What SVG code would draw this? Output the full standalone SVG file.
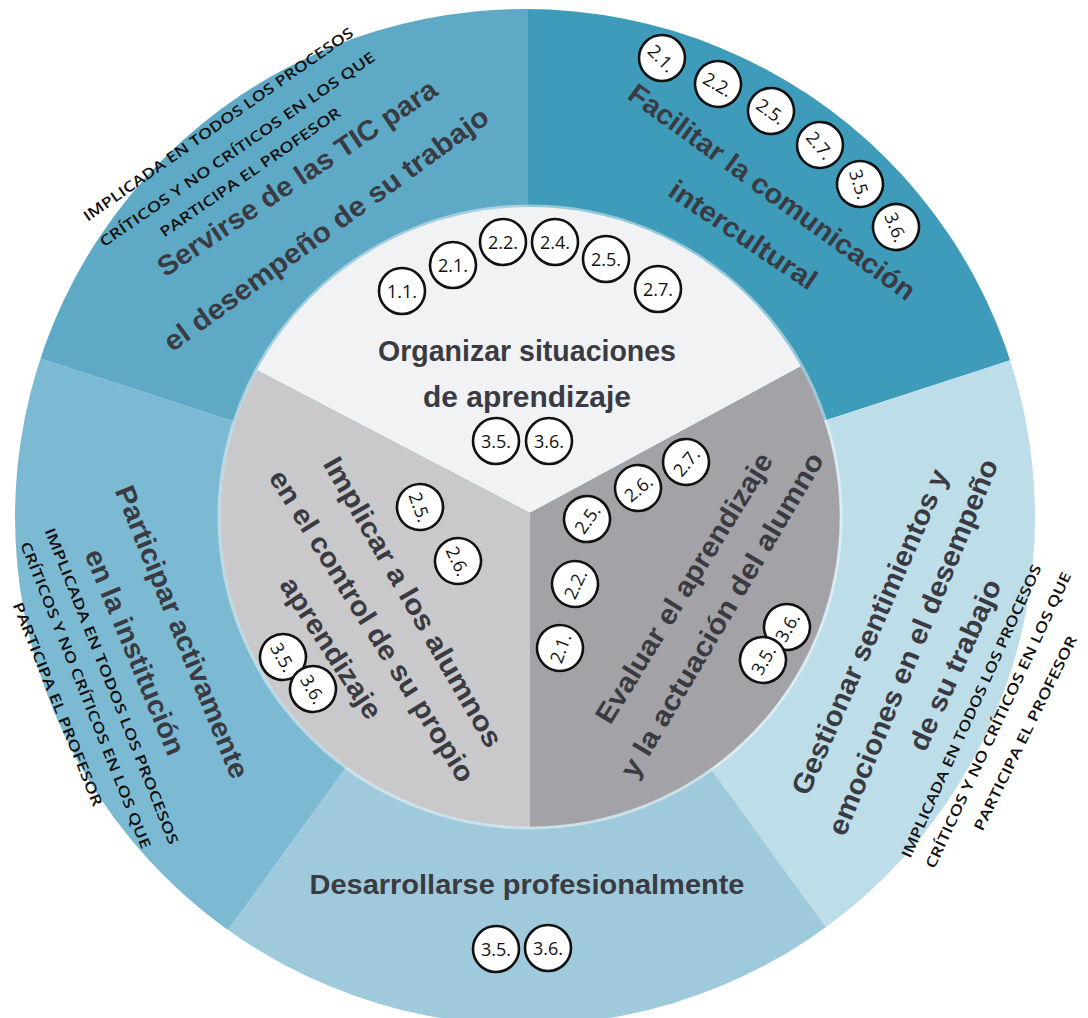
<svg xmlns="http://www.w3.org/2000/svg" width="1088" height="1018" viewBox="0 0 1088 1018">
<style>
.lbl{font-family:"Liberation Sans",Arial,sans-serif;font-weight:bold;font-size:28px;fill:#3a3b42;text-anchor:middle;dominant-baseline:central}
.sm{font-family:"Open Sans","DejaVu Sans",sans-serif;font-weight:600;font-size:14.5px;fill:#111;text-anchor:middle;dominant-baseline:central}
.bc{fill:#fff;stroke:#111;stroke-width:2.6}
.bt{font-family:"Open Sans","DejaVu Sans",sans-serif;font-size:18px;fill:#111;text-anchor:middle;dominant-baseline:central}
</style>
<defs>
<clipPath id="outerClip"><ellipse cx="525" cy="517" rx="510" ry="508"/></clipPath>
<clipPath id="innerClip"><circle cx="530" cy="517" r="310"/></clipPath>
<circle id="b" r="23" class="bc"/>
</defs>
<rect width="1088" height="1018" fill="#fff"/>
<g clip-path="url(#outerClip)">
<g id="servirse"><polygon points="528,517 -232.9,269.8 528,-283" fill="#5eaac6"/></g>
<g id="facilitar"><polygon points="528,517 528,-283 1288.9,269.8" fill="#3e9cba"/></g>
<g id="gestionar"><polygon points="528,517 1288.9,269.8 998.2,1164.2" fill="#bddde9"/></g>
<g id="desarrollarse"><polygon points="528,517 998.2,1164.2 57.8,1164.2" fill="#9fcadc"/></g>
<g id="participar"><polygon points="528,517 57.8,1164.2 -232.9,269.8" fill="#7cbad3"/></g>
</g>
<g clip-path="url(#innerClip)">
<g id="organizar-bg"><polygon points="530,513 -356,50 -356,-300 1410,-300 1410,37" fill="#f1f2f4"/></g>
<g id="implicar-bg"><polygon points="530,513 530,1100 -400,1100 -356,50" fill="#c9c9cb"/></g>
<g id="evaluar-bg"><polygon points="530,513 530,1100 1420,1100 1410,37" fill="#a3a3a7"/></g>
</g>
<circle cx="530" cy="517" r="311" fill="none" stroke="#ffffff" stroke-opacity="0.45" stroke-width="3"/>
<g id="connectors"/>

<g id="node-servirse">
<text class="lbl" transform="translate(297,178) rotate(-33.8)" textLength="330" lengthAdjust="spacingAndGlyphs">Servirse de las TIC para</text>
<text class="lbl" transform="translate(326,229) rotate(-36)" textLength="394" lengthAdjust="spacingAndGlyphs">el desempeño de su trabajo</text>
<text class="sm" transform="translate(218,124) rotate(-35)" textLength="326" lengthAdjust="spacingAndGlyphs">IMPLICADA EN TODOS LOS PROCESOS</text>
<text class="sm" transform="translate(237,149) rotate(-34.6)" textLength="331" lengthAdjust="spacingAndGlyphs">CRÍTICOS Y NO CRÍTICOS EN LOS QUE</text>
<text class="sm" transform="translate(250,172) rotate(-34.6)" textLength="216" lengthAdjust="spacingAndGlyphs">PARTICIPA EL PROFESOR</text>
</g>

<g id="node-facilitar">
<text class="lbl" transform="translate(772,192) rotate(36)" textLength="347" lengthAdjust="spacingAndGlyphs">Facilitar la comunicación</text>
<text class="lbl" transform="translate(743,235) rotate(34)" textLength="172" lengthAdjust="spacingAndGlyphs">intercultural</text>
<g transform="translate(662,58) rotate(45)"><use href="#b"/><text class="bt">2.1.</text></g>
<g transform="translate(718,84) rotate(30)"><use href="#b"/><text class="bt">2.2.</text></g>
<g transform="translate(771,111) rotate(35)"><use href="#b"/><text class="bt">2.5.</text></g>
<g transform="translate(820,145) rotate(50)"><use href="#b"/><text class="bt">2.7.</text></g>
<g transform="translate(860,184) rotate(72)"><use href="#b"/><text class="bt">3.5.</text></g>
<g transform="translate(896,227) rotate(68)"><use href="#b"/><text class="bt">3.6.</text></g>
</g>

<g id="node-gestionar">
<text class="lbl" transform="translate(870,632) rotate(-66.4)" textLength="352" lengthAdjust="spacingAndGlyphs">Gestionar sentimientos y</text>
<text class="lbl" transform="translate(913,647) rotate(-67.6)" textLength="404" lengthAdjust="spacingAndGlyphs">emociones en el desempeño</text>
<text class="lbl" transform="translate(955,665) rotate(-65.5)" textLength="185" lengthAdjust="spacingAndGlyphs">de su trabajo</text>
<text class="sm" transform="translate(971,711) rotate(-65.7)" textLength="320" lengthAdjust="spacingAndGlyphs">IMPLICADA EN TODOS LOS PROCESOS</text>
<text class="sm" transform="translate(998,720) rotate(-65)" textLength="325" lengthAdjust="spacingAndGlyphs">CRÍTICOS Y NO CRÍTICOS EN LOS QUE</text>
<text class="sm" transform="translate(1025,733) rotate(-63.8)" textLength="215" lengthAdjust="spacingAndGlyphs">PARTICIPA EL PROFESOR</text>
</g>

<g id="node-desarrollarse">
<text class="lbl" x="527" y="885" style="font-size:27px" textLength="435" lengthAdjust="spacingAndGlyphs">Desarrollarse profesionalmente</text>
<g transform="translate(496,949)"><use href="#b"/><text class="bt">3.5.</text></g>
<g transform="translate(548,948)"><use href="#b"/><text class="bt">3.6.</text></g>
</g>

<g id="node-participar">
<text class="lbl" transform="translate(182,632) rotate(68)" textLength="313" lengthAdjust="spacingAndGlyphs">Participar activamente</text>
<text class="lbl" transform="translate(135,652) rotate(67.5)" textLength="220" lengthAdjust="spacingAndGlyphs">en la institución</text>
<text class="sm" transform="translate(112,686) rotate(68.4)" textLength="339" lengthAdjust="spacingAndGlyphs">IMPLICADA EN TODOS LOS PROCESOS</text>
<text class="sm" transform="translate(86,695) rotate(68.3)" textLength="329" lengthAdjust="spacingAndGlyphs">CRÍTICOS Y NO CRÍTICOS EN LOS QUE</text>
<text class="sm" transform="translate(58,704) rotate(68.2)" textLength="218" lengthAdjust="spacingAndGlyphs">PARTICIPA EL PROFESOR</text>
</g>

<g id="node-organizar">
<text class="lbl" x="527" y="351" style="font-size:29px" textLength="298" lengthAdjust="spacingAndGlyphs">Organizar situaciones</text>
<text class="lbl" x="527" y="397" style="font-size:29px" textLength="208" lengthAdjust="spacingAndGlyphs">de aprendizaje</text>
<g transform="translate(402,291)"><use href="#b"/><text class="bt">1.1.</text></g>
<g transform="translate(453,265)"><use href="#b"/><text class="bt">2.1.</text></g>
<g transform="translate(503,242)"><use href="#b"/><text class="bt">2.2.</text></g>
<g transform="translate(555,242)"><use href="#b"/><text class="bt">2.4.</text></g>
<g transform="translate(606,259)"><use href="#b"/><text class="bt">2.5.</text></g>
<g transform="translate(658,289)"><use href="#b"/><text class="bt">2.7.</text></g>
<g transform="translate(496,441)"><use href="#b"/><text class="bt">3.5.</text></g>
<g transform="translate(549,441)"><use href="#b"/><text class="bt">3.6.</text></g>
</g>

<g id="node-implicar">
<text class="lbl" transform="translate(413,602) rotate(60)" textLength="330" lengthAdjust="spacingAndGlyphs">Implicar a los alumnos</text>
<text class="lbl" transform="translate(372,626) rotate(58)" textLength="362" lengthAdjust="spacingAndGlyphs">en el control de su propio</text>
<text class="lbl" transform="translate(331,648) rotate(57)" textLength="163" lengthAdjust="spacingAndGlyphs">aprendizaje</text>
<g transform="translate(420,507) rotate(70)"><use href="#b"/><text class="bt">2.5.</text></g>
<g transform="translate(458,561) rotate(65)"><use href="#b"/><text class="bt">2.6.</text></g>
<g transform="translate(283,657) rotate(60)"><use href="#b"/><text class="bt">3.5.</text></g>
<g transform="translate(313,689) rotate(60)"><use href="#b"/><text class="bt">3.6.</text></g>
</g>

<g id="node-evaluar">
<text class="lbl" transform="translate(684,588) rotate(-58.4)" textLength="312" lengthAdjust="spacingAndGlyphs">Evaluar el aprendizaje</text>
<text class="lbl" transform="translate(722,615) rotate(-59.4)" textLength="372" lengthAdjust="spacingAndGlyphs">y la actuación del alumno</text>
<g transform="translate(686,462) rotate(-50)"><use href="#b"/><text class="bt">2.7.</text></g>
<g transform="translate(638,488) rotate(-40)"><use href="#b"/><text class="bt">2.6.</text></g>
<g transform="translate(587,519) rotate(-55)"><use href="#b"/><text class="bt">2.5.</text></g>
<g transform="translate(575,584) rotate(-65)"><use href="#b"/><text class="bt">2.2.</text></g>
<g transform="translate(560,648) rotate(-70)"><use href="#b"/><text class="bt">2.1.</text></g>
<g transform="translate(787,627) rotate(-60)"><use href="#b"/><text class="bt">3.6.</text></g>
<g transform="translate(763,660) rotate(-60)"><use href="#b"/><text class="bt">3.5.</text></g>
</g>
</svg>
